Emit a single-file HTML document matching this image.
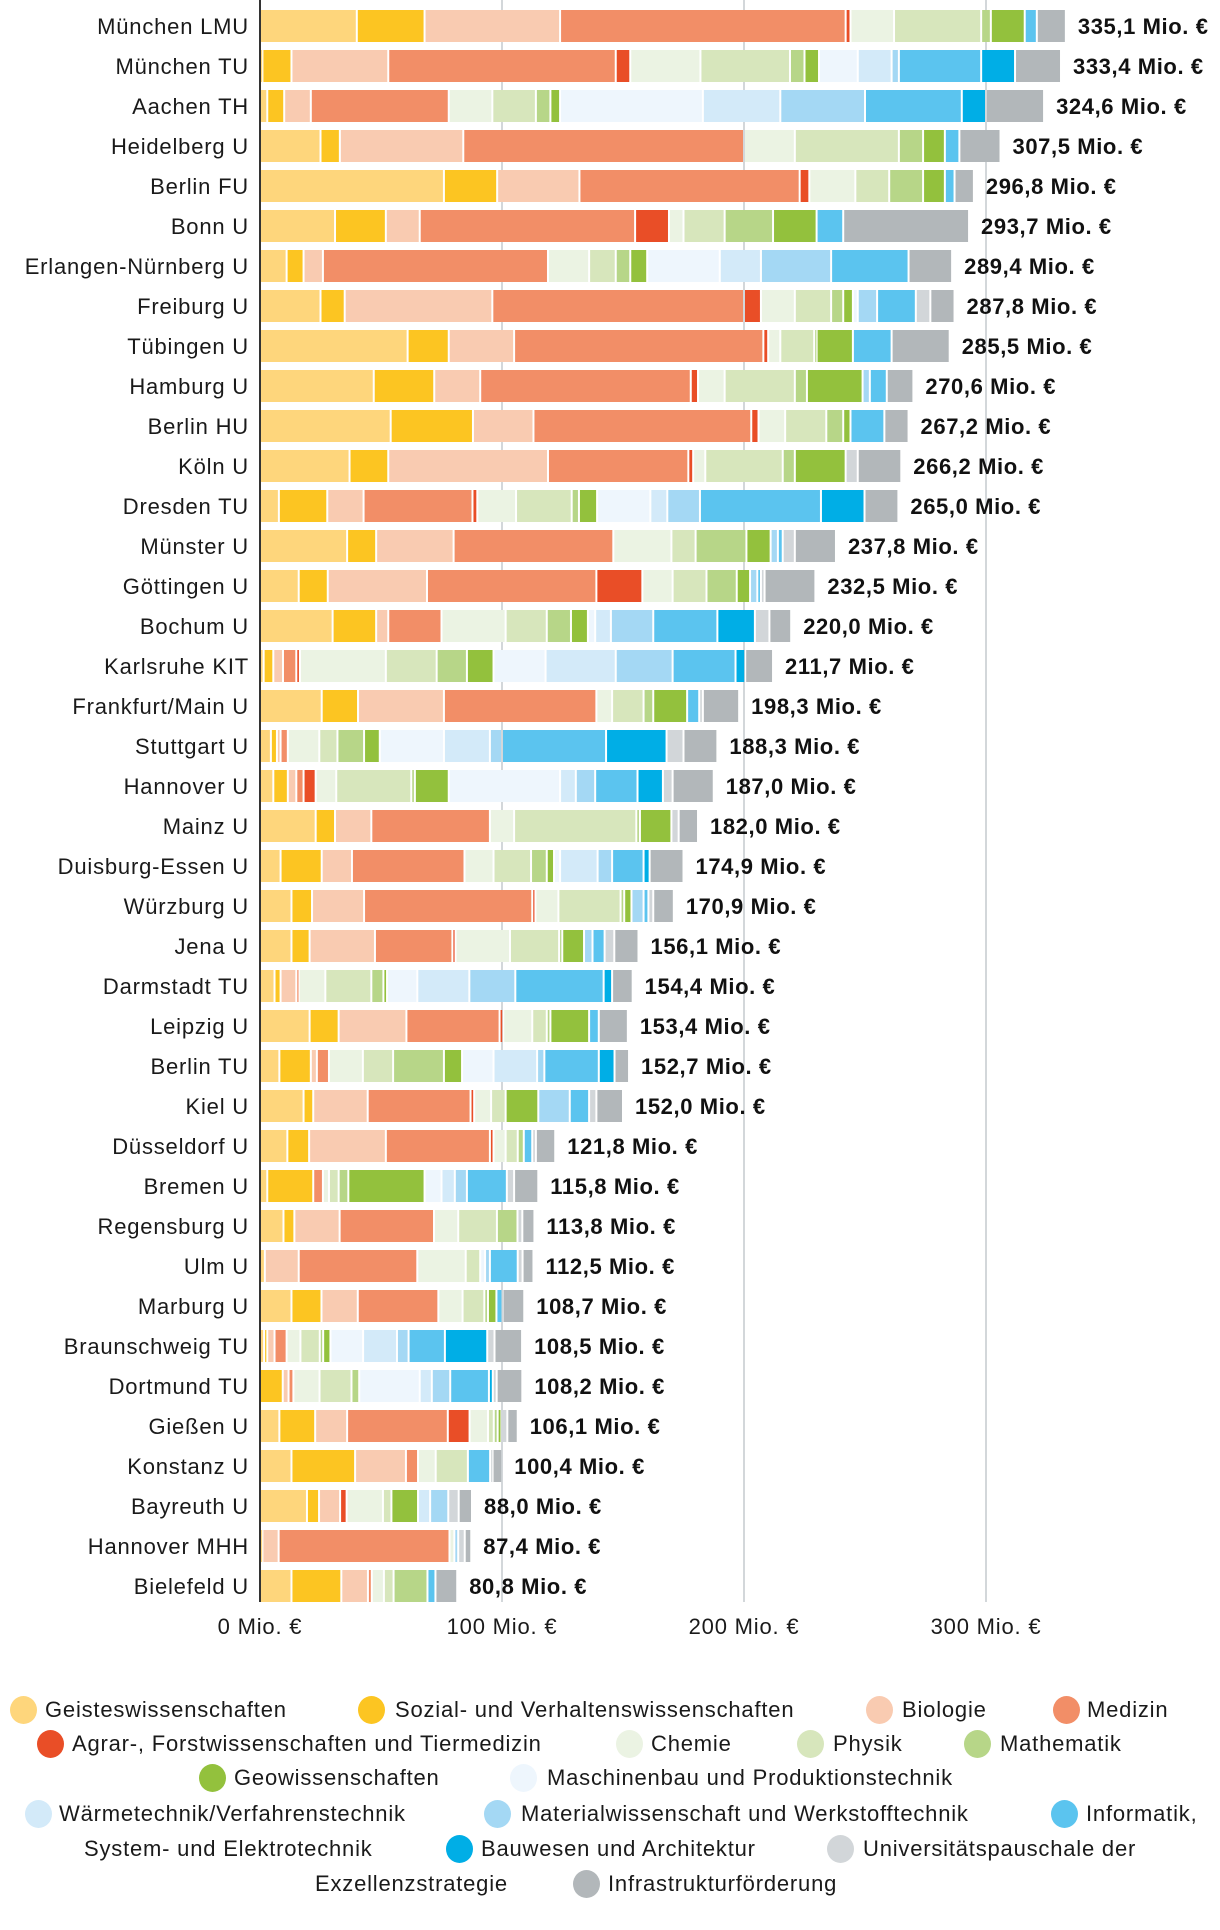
<!DOCTYPE html>
<html><head><meta charset="utf-8"><style>
html,body{margin:0;padding:0;background:#fff;}
body{width:1220px;height:1930px;position:relative;overflow:hidden;font-family:"Liberation Sans",sans-serif;color:#1a1a1a;}
svg{position:absolute;left:0;top:0;}
.lg{position:absolute;font-size:22px;letter-spacing:0.8px;line-height:28px;white-space:nowrap;}
.dot{position:absolute;width:27px;height:28px;border-radius:50%;}
</style></head><body>
<svg id="chart" width="1220" height="1660" viewBox="0 0 1220 1660"></svg>
<div id="legend"></div>
<script>
const universities=["München LMU","München TU","Aachen TH","Heidelberg U","Berlin FU","Bonn U","Erlangen-Nürnberg U","Freiburg U","Tübingen U","Hamburg U","Berlin HU","Köln U","Dresden TU","Münster U","Göttingen U","Bochum U","Karlsruhe KIT","Frankfurt/Main U","Stuttgart U","Hannover U","Mainz U","Duisburg-Essen U","Würzburg U","Jena U","Darmstadt TU","Leipzig U","Berlin TU","Kiel U","Düsseldorf U","Bremen U","Regensburg U","Ulm U","Marburg U","Braunschweig TU","Dortmund TU","Gießen U","Konstanz U","Bayreuth U","Hannover MHH","Bielefeld U"];
const totals=[335.1,333.4,324.6,307.5,296.8,293.7,289.4,287.8,285.5,270.6,267.2,266.2,265.0,237.8,232.5,220.0,211.7,198.3,188.3,187.0,182.0,174.9,170.9,156.1,154.4,153.4,152.7,152.0,121.8,115.8,113.8,112.5,108.7,108.5,108.2,106.1,100.4,88.0,87.4,80.8];
const geistes=[40,1,3,25,76,31,11,25,61,47,54,37,7.8,36,16,30,1.5,25.5,4.5,5.5,23,8.5,13,13,6,20.5,8,18,11.3,3,9.7,2,13,1.7,0,8,13,19.4,1,13];
const sozial=[28,12,7,8,22,21,7,10,17,25,34,16,20,12,12,18,4,15,2.5,6,8,17,8.5,7.5,2.5,12,13,4,9,19,4.5,0,12.4,1.3,9.4,14.8,26.3,5,0,20.6];
const biologie=[56,40,11,51,34,14,8,61,27,19,25,66,15,32,41,5,4,35.5,1.5,3.5,15,12.5,21.5,27,6.5,28,2.5,22.5,31.7,0,18.7,14,15,3,2.4,13.2,21,8.7,6.7,11];
const medizin=[118,94,57,116,91,89,93,104,103,87,90,58,45,66,70,22,5.5,63,3,3,49,46.5,69.5,32,1,38.5,5,42.5,43,4,39,49,33.3,5,2,41.6,5,0,70.6,1.6];
const agrar=[2,6,0,0,4,14,0,7,2,3,3,2,2,0,19,0,1.5,0,0,5,0,0,1.3,1.3,0,1.5,0,1.5,1.5,0,0,0,0,0,0,9,0,2.7,0,0];
const chemie=[18,29,18,21,19,6,17,14,5,11,11,5,16,24,12.5,26.5,35.5,6.5,13,8.5,10,12,9.5,22.5,11,12,14,7,5,2.5,10,20,10,5.7,10.8,7.6,7.3,15,2,5];
const physik=[36,37,18,43,14,17,11,15,14,29,17,32,23,10,14,17,21,13,7.5,31,50.5,15.5,25.7,20.3,19,6,12.5,6,5,4,16,6,9,8,13.2,2.4,13.3,3.5,0,4];
const mathematik=[4,6,6,10,14,20,6,5,1,5,7,5,3,21,12.5,10,12.5,4,11,1.5,1.5,6.5,1.5,1.3,5,1.5,21,0,2.5,4,8.5,0,1.5,1.4,3.2,1.6,0,0,0,14];
const geo=[14,6,4,9,9,18,7,4,15,23,3,21,7.5,10,5.5,7,11,14,6.5,14,13,3,3,9,1.5,16,7.5,13.5,0,31.5,0,0,3.5,3,0,1.6,0,11,0,0];
const maschinenbau=[0,16,59,0,0,0,30,2,0,0,0,0,22,0,0,3,21.5,0,26.5,46,0,2.5,0,0,12.5,0,13,0,0,7,0,2,0,13.5,25,0,0,0,0,0];
const waerme=[0,14,32,0,0,0,17,0,0,0,0,0,7,0,0,6.5,29,0,19,6.5,0,15.5,0,0,21.5,0,18,0,0,5.5,0,0,0,14,5,0,0,5,0,0];
const material=[0,3,35,0,0,0,29,8,0,3,0,0,13.5,3,3,17.5,23.5,0,5,8,0,6,5,3.5,19,0,3,13,0,5,0,2,0,4.8,7.6,0,0,7.5,1.6,0];
const informatik=[5,34,40,6,4,11,32,16,16,7,14,0,50,2,1.5,26.5,26,5,43,17.5,0,13,2,5,36.5,4,22.5,8,3.5,16.5,0,11.5,2.5,15,16,0,9.2,0,0,3.3];
const bauwesen=[0,14,10,0,0,0,0,0,0,0,0,0,18,0,0,15.5,4,0,25,10.5,0,2.5,0,0,3.5,0,6.5,0,0,0,0,0,0,17.5,1.6,0,0,0,0,0];
const pauschale=[0,0,0,0,0,0,0,6,0,0,0,5,0,5,1.5,6,0,1.5,7,4,3,0,2,4,0,0,0,3,1.5,3,2,2,0,3,1.6,2.4,1,4.3,2.7,0];
const infrastruktur=[12,19,24,17,8,52,18,10,24,11,10,18,14,17,21,9,11.5,15,14,17,8,14,8.5,10,8.5,12,6,11,8,10,5,4.5,9,11.4,10.6,4.3,4,5.5,2.7,9];
const tickValues=[0,100,200,300];
const tickLabels=["0 Mio. €","100 Mio. €","200 Mio. €","300 Mio. €"];

const series=[geistes,sozial,biologie,medizin,agrar,chemie,physik,mathematik,geo,maschinenbau,waerme,material,informatik,bauwesen,pauschale,infrastruktur];
const colors=["#fed67c","#fcc522","#f9cbb1","#f28e67","#e94e27","#ebf3e3","#d7e6bc","#b7d688","#93c13d","#eef6fd","#d3eaf9","#a4d8f4","#5bc4ef","#00aee6","#d2d6d9","#b2b7ba"];
const segNames=["geisteswissenschaften","sozialwissenschaften","biologie","medizin","agrar","chemie","physik","mathematik","geowissenschaften","maschinenbau","waermetechnik","materialwissenschaft","informatik","bauwesen","universitaetspauschale","infrastruktur"];

const NS="http://www.w3.org/2000/svg";
const svg=document.getElementById('chart');
const X0=260, PX=2.42, Y0=10, PITCH=40, BH=32;
const xs=v=>X0+v*PX;
const ys=i=>Y0+i*PITCH;
function mk(t,a){const e=document.createElementNS(NS,t);for(const k in a)e.setAttribute(k,a[k]);svg.appendChild(e);return e;}

tickValues.forEach((t,i)=>{
  if(t>0){
    const g=mk('line',{x1:xs(t),x2:xs(t),y1:0,y2:1602,stroke:'#d3d7da','stroke-width':2});
    
    
  }
  const tl=mk('text',{x:xs(t),y:1634,'text-anchor':'middle','font-size':22,'letter-spacing':0.8,fill:'#1a1a1a','font-family':'Liberation Sans, sans-serif'});
  tl.textContent=tickLabels[i];
  
  
});

universities.forEach((u,i)=>{
  const y=ys(i);
  const lab=mk('text',{x:249,y:y+BH/2+8,'text-anchor':'end','font-size':22,'letter-spacing':0.8,fill:'#1a1a1a','font-family':'Liberation Sans, sans-serif'});
  lab.textContent=u;
  
  
  let acc=0;
  series.forEach((s,k)=>{
    const v=s[i];
    if(v>0){
      const x1=xs(acc)+1, x2=xs(acc+v)-1;
      const w=Math.max(x2-x1,Math.min(1.2,v*PX));
      const r=mk('rect',{x:x1,y:y,width:w,height:BH,fill:colors[k]});
      
      
    }
    acc+=v;
  });
  const vl=mk('text',{x:xs(acc)+12,y:y+BH/2+8,'font-size':22,'letter-spacing':0.6,'font-weight':'bold',fill:'#111','font-family':'Liberation Sans, sans-serif'});
  vl.textContent=totals[i].toFixed(1).replace('.',',')+' Mio. €';
  
  
});
const ax=mk('line',{x1:X0,x2:X0,y1:0,y2:1602,stroke:'#333','stroke-width':2});



const legendItems=[
 [0,10,45,"Geisteswissenschaften"],[1,358,395,"Sozial- und Verhaltenswissenschaften"],[2,866,902,"Biologie"],[3,1053,1087,"Medizin"],
 [4,37,72,"Agrar-, Forstwissenschaften und Tiermedizin"],[5,616,651,"Chemie"],[6,797,833,"Physik"],[7,964,1000,"Mathematik"],
 [8,199,234,"Geowissenschaften"],[9,510,547,"Maschinenbau und Produktionstechnik"],
 [10,25,59,"Wärmetechnik/Verfahrenstechnik"],[11,484,521,"Materialwissenschaft und Werkstofftechnik"],[12,1051,1086,"Informatik,"],
 [-1,0,84,"System- und Elektrotechnik"],[13,446,481,"Bauwesen und Architektur"],[14,827,863,"Universitätspauschale der"],
 [-1,0,315,"Exzellenzstrategie"],[15,573,608,"Infrastrukturförderung"]];
const rowY=[1710,1710,1710,1710,1744,1744,1744,1744,1778,1778,1814,1814,1814,1849,1849,1849,1884,1884];
const lg=document.getElementById('legend');
legendItems.forEach((it,j)=>{
  const cy=rowY[j];
  if(it[0]>=0){
    const d=document.createElement('div');
    d.className='dot';
    d.style.left=it[1]+'px';d.style.top=(cy-14)+'px';d.style.background=colors[it[0]];
    
    
    lg.appendChild(d);
  }
  const t=document.createElement('div');
  t.className='lg';
  t.style.left=it[2]+'px';t.style.top=(cy-14)+'px';
  t.textContent=it[3];
  
  
  lg.appendChild(t);
});
</script>
</body></html>
